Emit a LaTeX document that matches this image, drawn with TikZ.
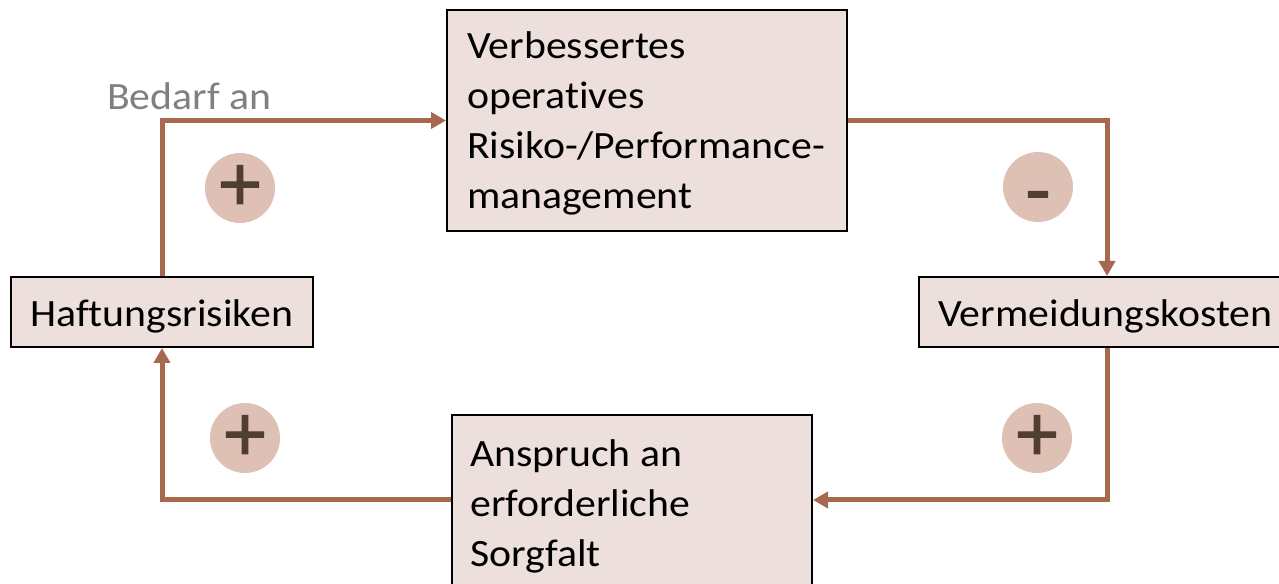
\documentclass[tikz,border=0pt]{standalone}
\usepackage{fontspec}
\setmainfont{Carlito}[FakeStretch=1.08, Ligatures={NoCommon}]
\newfontfamily\signfont{Carlito}[FakeBold=1.2]
\usetikzlibrary{arrows.meta}

\definecolor{linkbrown}{HTML}{A8674F}
\definecolor{boxfill}{HTML}{EDE0DC}
\definecolor{signfill}{HTML}{DFC0B5}
\definecolor{signtext}{HTML}{503E32}
\definecolor{labelgray}{HTML}{808080}

\tikzset{
  box/.style={draw=black, line width=1.5pt, fill=boxfill, inner sep=0pt},
  boxtext/.style={inner sep=0pt, anchor=north west, align=left,
    font=\fontsize{29}{37.5}\selectfont},
  flow/.style={draw=linkbrown, line width=3.75pt,
    -{Triangle[length=11.25pt,width=12pt]}},
  sign/.style={circle, fill=signfill, minimum size=52.5pt, inner sep=0pt,
    text=signtext, font=\signfont\fontsize{62}{62}\selectfont},
}

\begin{document}
\begin{tikzpicture}[x=0.75pt,y=-0.75pt]
  \useasboundingbox (0,0) rectangle (1279,584);

  % boxes
  \node[box, minimum width=300pt, minimum height=165.75pt] (top) at (647,120.5) {};
  \node[box, minimum width=226.5pt, minimum height=52.5pt] (haft) at (162,312) {};
  \node[box, minimum width=282pt, minimum height=52.5pt] (verm) at (1107,312) {};
  \node[box, minimum width=270pt, minimum height=127.5pt] (bot) at (632,500) {};

  % box texts
  \node[boxtext] (toptext) at (467,23)
    {\strut Verbessertes\\operatives\\Risiko-/Performance-\\management};
  \node[boxtext] (halftext) at (30,291) {\strut Haftungsrisiken};
  \node[boxtext] (vermtext) at (938,291) {\strut Vermeidungskosten};
  \node[boxtext] (bottext) at (470,431)
    {\strut Anspruch an\\erforderliche\\Sorgfalt};

  % loop connectors
  \draw[flow] (haft.north) |- (top.west);
  \draw[flow] (top.east) -| (verm.north);
  \draw[flow] (verm.south) |- (bot.east);
  \draw[flow] (bot.west) -| (haft.south);

  % connector label
  \node[inner sep=0pt, anchor=base west, text=labelgray,
    font=\fontsize{29}{37.5}\selectfont] (need) at (107,110) {Bedarf an};

  % polarity signs
  \node[sign] (s1) at (240,188) {+};
  \node[sign] (s2) at (1038,187) {\smash{\raisebox{-6pt}{-}}\vphantom{+}};
  \node[sign] (s3) at (1037,438) {+};
  \node[sign] (s4) at (245,438) {+};
\end{tikzpicture}
\end{document}
